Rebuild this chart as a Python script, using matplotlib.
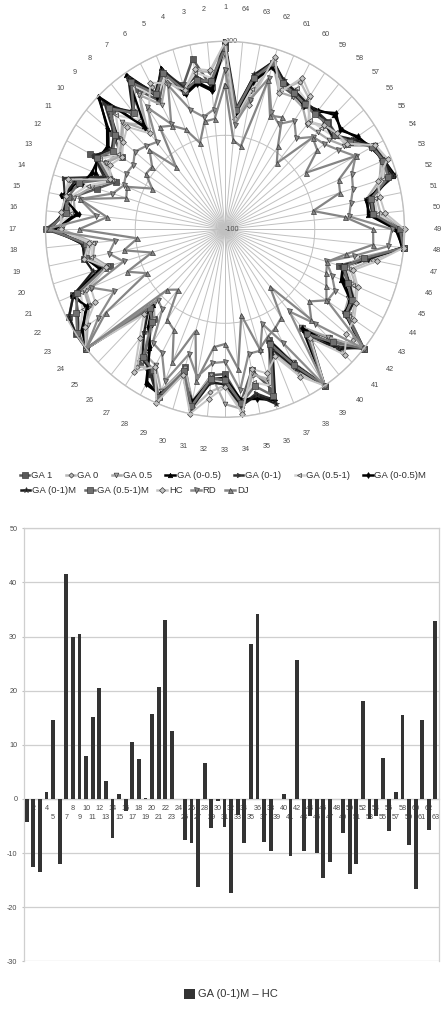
import numpy as np
import matplotlib
matplotlib.use("Agg")
import matplotlib.pyplot as plt
from matplotlib.lines import Line2D

plt.rcParams['font.family'] = ['Liberation Sans', 'DejaVu Sans']
plt.rcParams['axes.unicode_minus'] = False

W, H = 441, 1015

categories = list(range(1, 65))

ga_1 = [95,52,85,60,78,55,80,62,78,62,38,70,32,49,74,76,100,53,60,34,83,97,100,100,20,24,71,75,92,53,90,56,54,84,53,77,27,61,100,36,64,100,65,62,52,33,60,100,93,67,65,85,90,88,64,60,62,60,59,62,65,84,57,28]
ga_0 = [98,68,72,54,70,72,70,44,60,48,42,52,40,80,80,80,85,50,56,36,68,70,90,100,24,42,76,66,98,58,96,74,66,94,58,66,42,74,100,46,84,85,70,64,58,46,68,100,98,74,72,80,94,88,62,60,56,48,68,78,60,90,40,20]
ga_05 = [85,60,58,50,72,50,72,36,62,50,40,50,34,55,72,68,82,46,50,36,70,72,84,100,12,24,60,64,86,54,86,56,86,92,56,70,30,60,100,34,62,100,60,56,46,38,54,100,90,62,60,80,88,90,60,50,46,44,56,60,58,84,50,16]
ga_0_05 = [97,50,60,52,86,62,98,42,100,68,56,62,56,72,84,66,92,58,59,44,82,76,90,100,14,32,52,84,91,60,87,62,60,83,82,88,28,63,100,38,78,99,62,58,40,37,60,99,90,60,62,96,90,86,76,68,72,64,60,63,72,82,62,26]
ga_0_1 = [100,55,66,58,84,64,92,58,90,60,52,66,46,88,82,80,97,57,60,42,80,86,96,100,16,30,62,76,95,60,93,64,64,88,78,90,34,66,100,46,74,100,64,62,50,40,62,100,96,68,68,92,92,88,72,58,62,62,62,66,70,87,66,30]
ga_05_1 = [92,62,70,56,76,60,84,50,72,52,44,58,36,60,76,72,90,48,52,38,74,80,94,100,20,30,68,68,92,56,90,60,64,84,66,74,36,70,100,40,72,98,66,60,54,42,58,100,94,70,70,84,92,86,66,56,52,50,64,70,62,88,52,22]
ga_0_05m = [96,48,58,50,84,60,96,40,98,70,58,60,60,66,86,64,90,60,58,46,85,74,92,100,15,35,50,87,90,62,88,60,58,82,84,90,30,62,100,36,80,98,60,60,42,36,62,98,92,62,60,98,92,84,78,66,75,62,58,65,70,80,60,24]
ga_0_1m = [95,57.5,61,56,82.5,65,94,62,84.5,54.5,53,65.5,42,75.4,82,81.4,93.5,59.4,60,53.7,82.6,97,100,100,20.5,42,66,72,94.7,61.6,94.8,63.7,65,88.8,80,94,38.4,68,100,51,78,100,63.6,63,50,35,61.6,100,93.7,65,64,96,92.3,87,72,55,58,61.5,62.5,66.4,71.5,86.3,68,27]
ga_05_1m = [93,58,62,54,80,63,88,60,82,58,50,62,40,70,78,78,96,56,58,40,78,88,98,100,18,28,64,70,93,58,92,60,60,86,70,85,32,64,100,44,70,100,62,60,48,38,58,100,95,66,66,90,91,86,68,58,60,58,60,64,68,85,64,27]
hc = [99,70,74,55,68,77,52.5,32,54,46.5,38,45,38.7,82.6,81,83.7,83,52,60,38,62,64,88,100,28,50,82,65.6,100,62,100,81,68,97,51.5,60,46.4,77.7,100,50,88.6,75,73,66,60,49.6,73,100,100,79,76,78,96,90,64,61,56.7,46,71,83,57,92,35,18]
rd = [70,28,22,33,66,27,56,20,25,30,23,25,22,31,65,44,100,23,32,18,62,40,70,100,6,10,45,49,75,39,60,43,41,72,35,35,9,37,100,13,42,100,37,39,29,18,46,83,86,39,43,49,53,65,52,43,39,25,39,27,35,68,40,12]
dj = [54,18,17,-4,15,25,31,-14,19,5,6,-8,18,15,65,32,63,-2,15,-15,18,-1,60,100,-9,-17,16,21,53,13,65,26,22,49,-7,33,24,19,13,-21,36,21,36,28,22,19,37,66,65,34,0,34,37,66,8,33,38,-9,6,35,31,66,-10,-5]

series_names = ['GA 1','GA 0','GA 0.5','GA (0-0.5)','GA (0-1)','GA (0.5-1)',
                'GA (0-0.5)M','GA (0-1)M','GA (0.5-1)M','HC','RD','DJ']
series_values = [ga_1,ga_0,ga_05,ga_0_05,ga_0_1,ga_05_1,ga_0_05m,ga_0_1m,ga_05_1m,hc,rd,dj]
series_colors = ['#5a5a5a','#b8b8b8','#a8a8a8','#000000','#303030','#d0d0d0',
                 '#000000','#1c1c1c','#707070','#c4c4c4','#8c8c8c','#858585']
series_markers = ['s','D','v','^','>','<','d','*','s','D','v','^']
series_sizes = [3.8,2.6,3.4,3.2,3.2,3.0,3.0,4.0,4.0,3.0,3.6,3.6]
series_widths = [1.8,1.6,1.6,1.6,1.6,1.6,1.6,1.6,1.8,1.4,1.6,1.6]

diff_values = [-4.2,-12.5,-13.5,1.2,14.6,-12.1,41.5,30,30.5,8,15.1,20.5,3.3,-7.2,1,-2.3,10.5,7.4,0.2,15.7,20.6,33,12.5,0,
               -7.5,-8.2,-16.2,6.6,-5.3,-0.4,-5.2,-17.3,-3,-8.2,28.6,34.2,-8,-9.7,0,0.9,-10.5,25.7,-9.7,-3.2,-9.9,-14.7,-11.7,0,
               -6.3,-13.8,-12.1,18.1,-3.7,-3.2,7.6,-6,1.3,15.5,-8.5,-16.6,14.5,-5.7,32.8]

GRID = '#c0c0c0'
TXT = '#4a4a4a'

fig = plt.figure(figsize=(W/100, H/100), dpi=100, facecolor='white')

# ---- radar ----
cx, cy, rx, ry = 225, 229.3, 179.5, 188
ax = fig.add_axes([(cx-rx)/W, 1-(cy+ry)/H, 2*rx/W, 2*ry/H], projection='polar')
ax.set_aspect('auto')
ax.set_theta_zero_location('N')
ax.set_theta_direction(1)
ax.set_ylim(-100, 100)
theta = np.arange(64) * 2*np.pi/64
ax.set_xticks(theta)
ax.set_xticklabels([str(c) for c in categories], fontsize=5.2, color=TXT)
ax.tick_params(axis='x', pad=17, length=0)
ax.set_yticks([-100, 0, 100])
ax.set_yticklabels(['-100', '', '100'], fontsize=5.2, color=TXT, ha='left', va='center')
ax.set_rlabel_position(0)
ax.tick_params(axis='y', pad=3, length=0)
ax.grid(True, color=GRID, lw=0.7)
ax.spines['polar'].set_color(GRID)
ax.spines['polar'].set_linewidth(1.0)
ax.set_axisbelow(True)

handles = []
for name, vals, col, mk, ms, lw in zip(series_names, series_values, series_colors,
                                       series_markers, series_sizes, series_widths):
    t = np.r_[theta, theta[0]]
    v = np.r_[vals, vals[0]]
    edge = '#3c3c3c' if col != '#000000' else '#000000'
    h, = ax.plot(t, v, color=col, lw=lw, marker=mk, ms=ms, mfc=col, mec=edge, mew=0.5,
                 clip_on=False, label=name, solid_joinstyle='miter')
    handles.append(h)

def row(hs, x, y, spacing):
    fig.legend(handles=[Line2D([], [], color=h.get_color(), lw=1.8, marker=h.get_marker(),
                               ms=h.get_markersize(), mfc=h.get_markerfacecolor(),
                               mec=h.get_markeredgecolor(), mew=0.5) for h in hs],
               labels=[h.get_label() for h in hs], ncol=len(hs), frameon=False,
               loc='center left', bbox_to_anchor=(x/W, 1-y/H), borderaxespad=0, borderpad=0,
               fontsize=6.8, labelcolor='#333333', handlelength=1.0, handletextpad=0.2,
               columnspacing=spacing)

row(handles[:7], 20, 476, 1.4)
row(handles[7:], 21, 491, 0.95)

# ---- bars ----
x0, x1, ytop, ybot = 23.5, 438.7, 528.3, 961.3
bx = fig.add_axes([x0/W, 1-ybot/H, (x1-x0)/W, (ybot-ytop)/H])
pos = np.arange(1, len(diff_values)+1)
bars = bx.bar(pos, diff_values, width=0.58, color='#333333', label='GA (0-1)M \u2013 HC', zorder=3)
bx.set_xlim(0.5, len(diff_values)+0.5)
bx.set_ylim(-30, 50)
bx.set_yticks(np.arange(-30, 51, 10))
bx.tick_params(axis='y', labelsize=5.2, labelcolor=TXT, length=1.5, color=GRID, pad=3, width=0.8)
bx.grid(True, axis='y', color='#cfcfcf', lw=0.9, zorder=0)
for s in ('top', 'left', 'right'):
    bx.spines[s].set_color('#cfcfcf')
    bx.spines[s].set_linewidth(0.9)
bx.spines['bottom'].set_position(('data', 0))
bx.spines['bottom'].set_color('#cfcfcf')
bx.spines['bottom'].set_linewidth(0.9)
bx.set_xticks(pos)
bx.set_xticklabels([str(p) for p in pos])
bx.tick_params(axis='x', labelsize=5.2, labelcolor=TXT, length=0)
for i, tk in enumerate(bx.xaxis.get_major_ticks()):
    tk.set_pad(10.6 if i % 2 == 0 else 4.2)
for lb in bx.get_xticklabels():
    lb.set_zorder(5)

fig.legend(handles=[bars], labels=['GA (0-1)M \u2013 HC'], frameon=False, loc='center left',
           bbox_to_anchor=(184/W, 1-994/H), borderaxespad=0, borderpad=0, fontsize=8,
           labelcolor='#333333', handlelength=1.0, handleheight=1.0, handletextpad=0.25)

fig.savefig('out.png', dpi=100, facecolor='white')
